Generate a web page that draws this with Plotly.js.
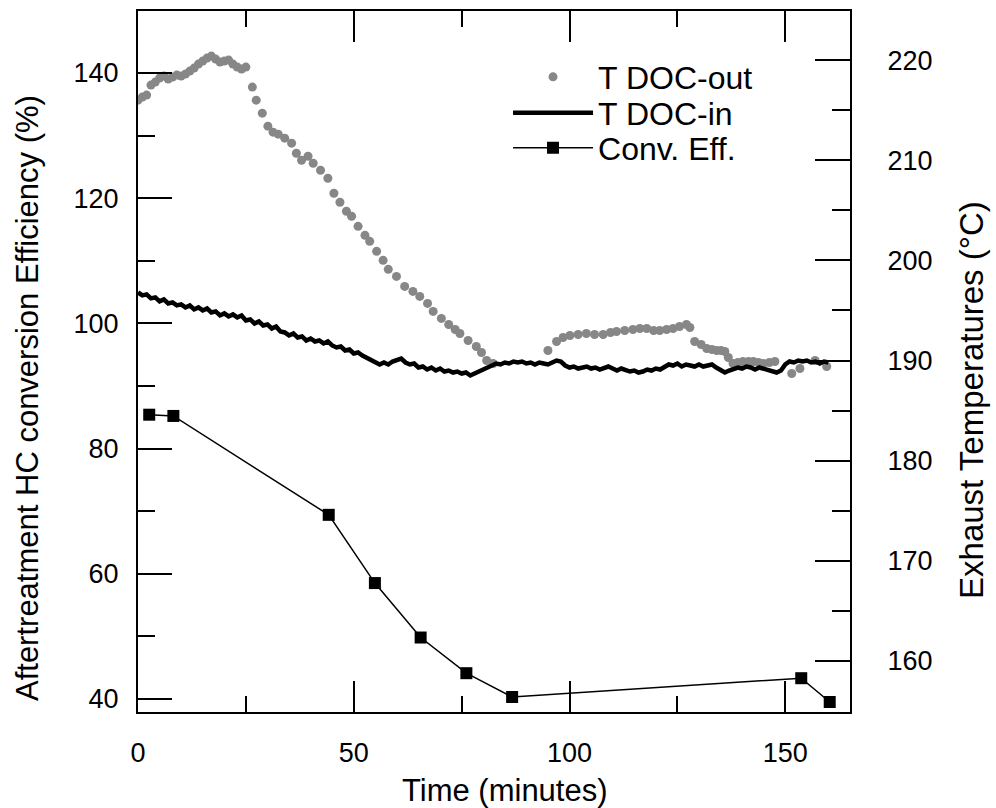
<!DOCTYPE html>
<html>
<head>
<meta charset="utf-8">
<script src="https://cdn.plot.ly/plotly-3.0.1.min.js"></script>
<style>html,body{margin:0;padding:0;background:#fff;}#chart{width:996px;height:808px;}</style>
</head>
<body>
<div id="chart"></div>
<script>
// ---- Data ----
// Conv. Eff. (left axis, %)
const effTime = [2.6, 8.2, 44.2, 54.9, 65.5, 76.1, 86.7, 153.7, 160.3];
const effVal  = [85.4, 85.2, 69.4, 58.5, 49.8, 44.1, 40.3, 43.3, 39.5];

// T DOC-out (right axis, °C), gray dots
const outTime = [0,1,2,3,4,5,6,7,8,9,10,11,12,13,14,15,16,17,18,19,20,21,22,23,24,25,
  26.5,27.4,28.8,30.1,31.3,32.5,34.0,35.6,36.7,37.9,39.4,40.6,42.3,44.0,45.4,46.8,48.3,49.5,
  51.0,52.6,53.7,55.3,56.8,58.0,59.9,61.8,63.7,65.3,67.1,68.4,70.3,72.0,73.5,74.6,76.5,78.4,
  79.6,80.8,82.3,
  95.0,97.0,98.5,100.1,102.0,103.9,105.8,107.8,109.5,110.9,112.8,114.7,116.3,117.9,119.5,
  120.9,122.5,124.0,125.5,127.1,127.9,129.0,130.5,131.8,133.0,134.1,135.1,136.0,136.8,
  137.9,139.0,140.2,141.5,142.6,143.8,144.9,146.3,147.6,151.5,153.4,156.9,159.6];
const outVal = [216.0,216.3,216.5,217.5,217.8,218.2,218.4,218.1,218.3,218.5,218.4,218.6,218.9,219.2,219.6,219.9,220.2,220.4,220.1,219.8,219.9,220.0,219.6,219.3,219.1,219.3,
  217.3,216.0,214.7,213.4,212.8,212.6,212.2,211.7,210.7,210.0,210.4,209.7,209.0,208.2,206.7,205.8,204.9,204.4,
  203.4,202.5,201.9,200.9,200.0,199.1,198.4,197.4,196.9,196.4,195.7,194.9,194.2,193.6,193.1,192.7,192.0,191.4,
  190.8,190.0,189.7,
  191.0,191.9,192.3,192.5,192.6,192.7,192.6,192.6,192.8,192.9,193.0,193.1,193.2,193.2,193.0,
  193.0,193.1,193.2,193.4,193.6,193.3,191.9,191.6,191.2,191.1,191.0,191.0,190.9,190.3,
  189.7,189.8,189.9,189.9,189.9,189.8,189.7,189.8,189.9,188.7,189.2,190.0,189.4];

// T DOC-in (right axis, °C), noisy black line, one reading per minute 0..160
const inTime = [0,1,2,3,4,5,6,7,8,9,10,11,12,13,14,15,16,17,18,19,20,21,22,23,24,25,26,27,28,29,30,31,32,33,34,35,36,37,38,39,40,
  41,42,43,44,45,46,47,48,49,50,51,52,53,54,55,56,57,58,59,60,61,62,63,64,65,66,67,68,69,70,71,72,73,74,75,76,77,78,79,80,
  81,82,83,84,85,86,87,88,89,90,91,92,93,94,95,96,97,98,99,100,101,102,103,104,105,106,107,108,109,110,111,112,113,114,115,116,117,118,119,120,
  121,122,123,124,125,126,127,128,129,130,131,132,133,134,135,136,137,138,139,140,141,142,143,144,145,146,147,148,149,150,151,152,153,154,155,156,157,158,159,160];
const inVal = [196.8,196.5,196.6,196.2,196.3,195.9,196.1,195.7,195.8,195.5,195.6,195.3,195.5,195.1,195.3,195.0,195.2,194.8,194.9,194.5,194.7,194.4,194.6,194.3,194.5,194.0,194.1,193.7,193.9,193.5,193.6,193.2,193.4,192.9,192.8,192.5,192.7,192.3,192.4,192.0,192.2,
  191.9,192.0,191.7,191.9,191.5,191.3,191.4,191.0,191.1,190.7,190.8,190.5,190.3,190.1,189.9,189.6,189.8,189.6,189.9,190.1,190.2,189.8,189.6,189.7,189.3,189.4,189.1,189.3,189.0,189.2,188.9,189.0,188.8,188.9,188.7,188.8,188.5,188.7,188.9,189.2,
  189.4,189.5,189.7,189.6,189.8,189.7,189.9,189.8,189.9,189.7,189.8,189.6,189.8,189.7,189.6,189.8,190.0,189.9,189.5,189.3,189.4,189.2,189.3,189.4,189.2,189.3,189.1,189.3,189.4,189.2,189.0,189.2,189.1,188.9,189.0,188.8,188.9,189.1,189.0,189.2,
  189.1,189.4,189.6,189.5,189.7,189.4,189.6,189.5,189.4,189.6,189.4,189.5,189.6,189.3,189.0,188.8,189.0,189.2,189.3,189.2,189.4,189.3,189.1,189.3,189.2,189.0,188.9,188.8,189.0,189.6,189.9,189.8,190.0,189.9,190.0,189.8,189.9,189.7,189.9,189.8];

// Axis labels
const xTitle = 'Time (minutes)';
const yTitle = 'Aftertreatment HC conversion Efficiency (%)';
const y2Title = 'Exhaust Temperatures (\u00B0C)';

const FONT = 'Liberation Sans, Arial, sans-serif';

const traces = [
  {x: outTime, y: outVal, name: 'T DOC-out', type: 'scatter', mode: 'markers', yaxis: 'y2', legend: 'legend',
   marker: {color: '#878787', size: 9}},
  {x: inTime, y: inVal, name: 'T DOC-in', type: 'scatter', mode: 'lines', yaxis: 'y2', legend: 'legend2',
   line: {color: '#000', width: 4.5}},
  {x: effTime, y: effVal, name: 'Conv. Eff.', type: 'scatter', mode: 'lines+markers', yaxis: 'y', legend: 'legend3',
   line: {color: '#000', width: 1.5}, marker: {color: '#000', symbol: 'square', size: 12}}
];

const legBase = {xanchor: 'left', yanchor: 'middle', bgcolor: 'rgba(0,0,0,0)',
                 font: {size: 32, family: FONT, color: '#000'}, itemwidth: 80};

const layout = {
  width: 996, height: 808,
  margin: {l: 138, r: 146, t: 11, b: 96},
  paper_bgcolor: '#fff', plot_bgcolor: '#fff',
  font: {family: FONT, color: '#000', size: 27},
  showlegend: true,
  legend:  Object.assign({x: 0.5197, y: 0.9058}, legBase),
  legend2: Object.assign({x: 0.5197, y: 0.8545}, legBase),
  legend3: Object.assign({x: 0.5197, y: 0.8046}, legBase),
  xaxis: {range: [0, 165], dtick: 50, tick0: 0, ticks: 'inside', ticklen: 31, tickwidth: 2,
          minor: {dtick: 25, ticks: 'inside', ticklen: 16, tickwidth: 2, tickcolor: '#000'},
          showline: true, linewidth: 2, linecolor: '#000', mirror: 'ticks', showgrid: false, zeroline: false,
          tickcolor: '#000', tickfont: {size: 27}, ticklabelstandoff: 16},
  yaxis: {range: [37.9, 149.9], dtick: 20, tick0: 0, ticks: 'inside', ticklen: 34, tickwidth: 2,
          minor: {dtick: 10, ticks: 'inside', ticklen: 17, tickwidth: 2, tickcolor: '#000'},
          showline: true, linewidth: 2, linecolor: '#000', showgrid: false, zeroline: false,
          tickcolor: '#000', tickfont: {size: 27}, ticklabelstandoff: 12},
  yaxis2: {range: [154.9, 224.9], dtick: 10, tick0: 0, ticks: 'inside', ticklen: 35, tickwidth: 2,
          minor: {dtick: 5, ticks: 'inside', ticklen: 18, tickwidth: 2, tickcolor: '#000'},
          overlaying: 'y', side: 'right',
          showline: true, linewidth: 2, linecolor: '#000', showgrid: false, zeroline: false,
          tickcolor: '#000', tickfont: {size: 27}, ticklabelstandoff: 30},
  annotations: [
    {text: xTitle, xref: 'paper', yref: 'paper', x: 0.5154, y: -0.1113, xanchor: 'center', yanchor: 'middle',
     showarrow: false, font: {size: 31, family: FONT, color: '#000'}},
    {text: yTitle, xref: 'paper', yref: 'paper', x: -0.1559, y: 0.4479, xanchor: 'center', yanchor: 'middle',
     textangle: -90, showarrow: false, font: {size: 31, family: FONT, color: '#000'}},
    {text: y2Title, xref: 'paper', yref: 'paper', x: 1.1713, y: 0.4451, xanchor: 'center', yanchor: 'middle',
     textangle: -90, showarrow: false, font: {size: 33, family: FONT, color: '#000'}}
  ]
};

Plotly.newPlot('chart', traces, layout, {displayModeBar: false, staticPlot: true});
</script>
</body>
</html>
